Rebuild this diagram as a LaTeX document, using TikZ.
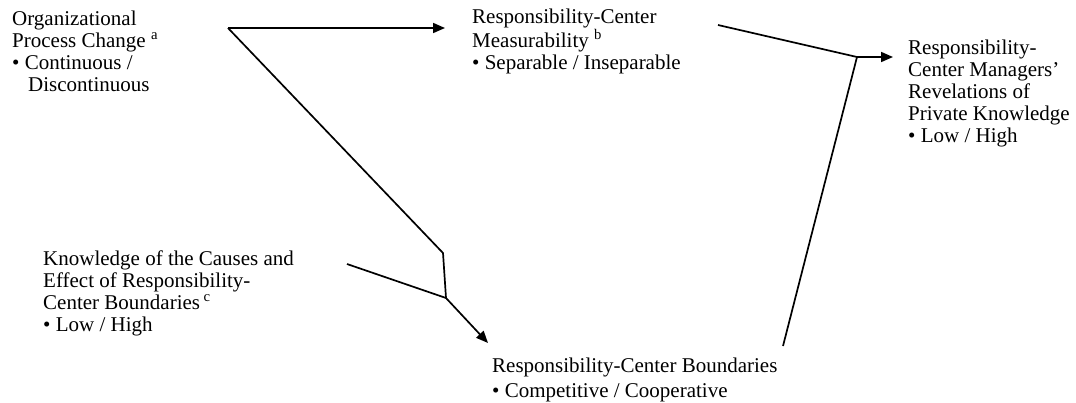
\documentclass[tikz,border=0pt]{standalone}
\usepackage{fontspec}
\setmainfont{Liberation Serif}
\usetikzlibrary{arrows.meta}
\begin{document}
\begin{tikzpicture}[x=1pt,y=-1pt,
  lbl/.style={anchor=base west,inner sep=0pt,align=left,font=\fontsize{21}{22}\selectfont},
  conn/.style={line width=1.7pt,line join=miter},
  arr/.style={conn,-{Triangle[length=12pt,width=10pt]}}]
\useasboundingbox (0,0) rectangle (1076,402);
% base anchor = baseline of the last line
\node[lbl] (opc) at (12,91) {Organizational\\Process Change \textsuperscript{a}\\• Continuous /\\\hspace*{16pt}Discontinuous};
\node[lbl] (rcm) at (472,69) {Responsibility-Center\\Measurability \textsuperscript{b}\\• Separable / Inseparable};
\node[lbl] (rev) at (908,142) {Responsibility-\\Center Managers’\\Revelations of\\Private Knowledge\\• Low / High};
\node[lbl] (kno) at (43,331) {Knowledge of the Causes and\\Effect of Responsibility-\\Center Boundaries\,\textsuperscript{c}\\• Low / High};
\node[lbl,font=\fontsize{21}{25}\selectfont] (rcb) at (492,397) {Responsibility-Center Boundaries\\• Competitive / Cooperative};
\coordinate (s1) at (228,28);
\coordinate (e1) at (445,28);
\coordinate (k1) at (443,253);
\coordinate (j1) at (446,298);
\coordinate (s2) at (347,264);
\coordinate (e2) at (488,343);
\coordinate (s3) at (718,25);
\coordinate (j2) at (857,57);
\coordinate (s4) at (783,346);
\coordinate (e3) at (893,57);
\draw[arr] (s1) -- (e1);
\draw[conn] (s1) -- (k1) -- (j1);
\draw[conn] (s2) -- (j1);
\draw[arr] (j1) -- (e2);
\draw[conn] (s3) -- (j2);
\draw[conn] (s4) -- (j2);
\draw[arr] (j2) -- (e3);
\end{tikzpicture}
\end{document}
